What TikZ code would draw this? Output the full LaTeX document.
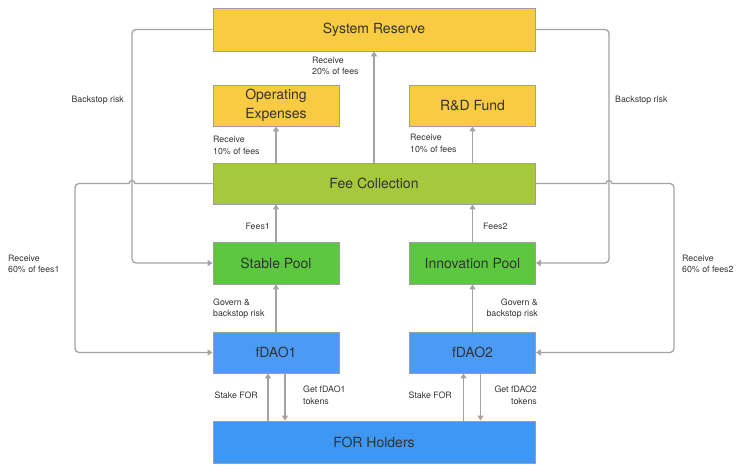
\documentclass[tikz,border=0pt]{standalone}
\usepackage{fontspec}
\setmainfont{TeX Gyre Heros}
\usetikzlibrary{arrows.meta,positioning}

\definecolor{boxline}{HTML}{9E9E9E}
\definecolor{arrowgray}{HTML}{A3A3A3}
\definecolor{reserveyellow}{HTML}{F9CB42}
\definecolor{feegreen}{HTML}{A5C83C}
\definecolor{poolgreen}{HTML}{5BC83F}
\definecolor{daoblue}{HTML}{4B9BF5}
\definecolor{holderblue}{HTML}{3D97F3}
\definecolor{textgray}{HTML}{333333}

\tikzset{
  block/.style = {draw = boxline, line width = 0.8pt, text = textgray,
    font = \fontsize{14}{19}\selectfont, align = center, inner sep = 0pt},
  wide/.style = {block, minimum width = 322pt},
  narrow/.style = {block, minimum width = 126pt},
  flow/.style = {draw = arrowgray, line width = 1.3pt,
    -{Triangle[width = 6pt, length = 5pt]}},
  note/.style = {text = textgray, font = \fontsize{8.8}{11.5}\selectfont,
    inner sep = 0pt},
}

\begin{document}
\begin{tikzpicture}[x = 1pt, y = -1pt]
    \useasboundingbox (0,0) rectangle (739,471);
    % boxes
    \node[wide, fill = reserveyellow, minimum height = 43pt] (reserve) at (374,29.5) {System Reserve};
    \node[narrow, fill = reserveyellow, minimum height = 41pt] (opex) at (276,105.5) {Operating\\Expenses};
    \node[narrow, fill = reserveyellow, minimum height = 41pt] (rnd) at (472.5,105.5) {R\&D Fund};
    \node[wide, fill = feegreen, minimum height = 41pt] (fee) at (374,183.5) {Fee Collection};
    \node[narrow, fill = poolgreen, minimum height = 42pt] (stable) at (276,263) {Stable Pool};
    \node[narrow, fill = poolgreen, minimum height = 42pt] (innov) at (472.5,263) {Innovation Pool};
    \node[narrow, fill = daoblue, minimum height = 41pt] (dao1) at (276,352.5) {fDAO1};
    \node[narrow, fill = daoblue, minimum height = 41pt] (dao2) at (472.5,352.5) {fDAO2};
    \node[wide, fill = holderblue, minimum height = 42pt] (holders) at (374,442) {FOR Holders};

    % fee split
    \draw[flow] (fee.north -| opex.south) -- (opex.south);
    \draw[flow] (fee.north) -- (reserve.south);
    \draw[flow] (fee.north -| rnd.south) -- (rnd.south);
    \draw[flow] (stable.north) -- (stable.north |- fee.south);
    \draw[flow] (innov.north) -- (innov.north |- fee.south);
    \draw[flow] (dao1.north) -- (stable.south);
    \draw[flow] (dao2.north) -- (innov.south);

    % staking
    \draw[flow] ([xshift = -8pt]dao1.south |- holders.north) -- ([xshift = -8pt]dao1.south);
    \draw[flow] ([xshift = 9pt]dao1.south) -- ([xshift = 9pt]dao1.south |- holders.north);
    \draw[flow] ([xshift = -9pt]dao2.south |- holders.north) -- ([xshift = -9pt]dao2.south);
    \draw[flow] ([xshift = 8pt]dao2.south) -- ([xshift = 8pt]dao2.south |- holders.north);

    % outer loops
    \draw[flow, rounded corners = 4pt] (reserve.west) -- (132,29.5) -- (132,263) -- (stable.west);
    \draw[flow, rounded corners = 4pt] (reserve.east) -- (609,29.5) -- (609,263) -- (innov.east);
    \draw[flow] (fee.west) -- (135,183.5) arc[start angle = 0, end angle = -180, radius = 3]
      [rounded corners = 4pt] -- (75,183.5) -- (75,352.5) -- (dao1.west);
    \draw[flow] (fee.east) -- (606,183.5) arc[start angle = 180, end angle = 360, radius = 3]
      [rounded corners = 4pt] -- (674,183.5) -- (674,352.5) -- (dao2.east);

    % labels
    \node[note, anchor = west, align = left] (l20) at (312,66) {Receive\\20\% of fees};
    \node[note, anchor = west, align = left] (l10a) at (213,145.5) {Receive\\10\% of fees};
    \node[note, anchor = west, align = left] (l10b) at (410,143.5) {Receive\\10\% of fees};
    \node[note, anchor = east] (lfees1) at (270,226) {Fees1};
    \node[note, anchor = west] (lfees2) at (483,226) {Fees2};
    \node[note, anchor = west, align = left] (lgov1) at (213,308.5) {Govern \&\\backstop risk};
    \node[note, anchor = east, align = right] (lgov2) at (538,308.5) {Govern \&\\backstop risk};
    \node[note, anchor = east] (lstake1) at (258,395) {Stake FOR};
    \node[note, anchor = west, align = left] (lget1) at (303,395.5) {Get fDAO1\\tokens};
    \node[note, anchor = east] (lstake2) at (452,395) {Stake FOR};
    \node[note, anchor = east, align = right] (lget2) at (537,395.5) {Get fDAO2\\tokens};
    \node[note, anchor = east] (lback1) at (124,100) {Backstop risk};
    \node[note, anchor = west] (lback2) at (615,100) {Backstop risk};
    \node[note, anchor = west, align = left] (l60a) at (8,264) {Receive\\60\% of fees1};
    \node[note, anchor = west, align = left] (l60b) at (682,264) {Receive\\60\% of fees2};
  \end{tikzpicture}
\end{document}
